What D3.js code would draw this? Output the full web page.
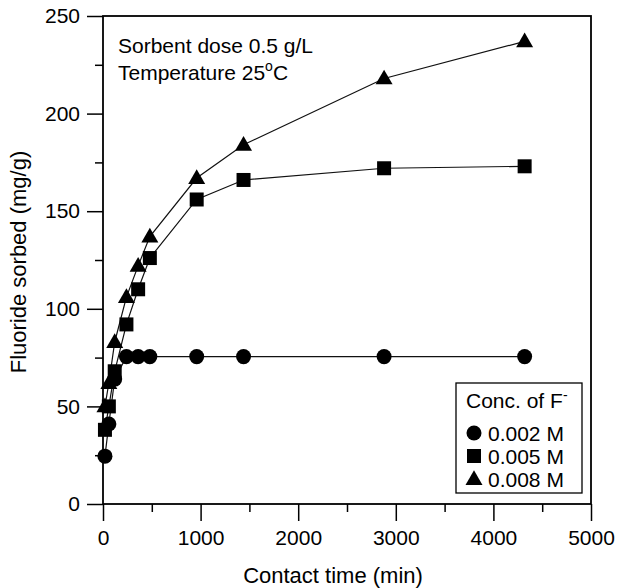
<!DOCTYPE html>
<html>
<head>
<meta charset="utf-8">
<script src="https://cdn.jsdelivr.net/npm/d3@7"></script>
<style>
  html, body { margin: 0; padding: 0; background: #fff; }
  svg { display: block; }
  text { font-family: "Liberation Sans", Arial, Helvetica, sans-serif; fill: #000; }
</style>
</head>
<body>
<svg id="chart" width="617" height="588"></svg>
<script>
// ---- data ----
const times = [20, 60, 120, 240, 360, 480, 960, 1440, 2880, 4320];
const conc002 = [24.5, 41, 64, 75.5, 75.5, 75.5, 75.5, 75.5, 75.5, 75.5];
const conc005 = [38, 50, 68, 92, 110, 126, 156, 166, 172, 173];
const conc008 = [50, 62, 83, 106, 122, 137, 167, 184, 218, 237];
const seriesNames = ["0.002 M", "0.005 M", "0.008 M"];
const seriesSymbols = ["circle", "square", "triangle"];
const xTicks = [0, 1000, 2000, 3000, 4000, 5000];
const yTicks = [0, 50, 100, 150, 200, 250];

const series = [conc002, conc005, conc008].map((vals, i) => ({
  name: seriesNames[i],
  symbol: seriesSymbols[i],
  points: times.map((t, j) => ({ t, v: vals[j] }))
}));

const svg = d3.select("#chart");
const margin = { left: 103, right: 26, top: 16, bottom: 84 };
const W = 617, H = 588;
const x = d3.scaleLinear().domain([0, 5000]).range([margin.left, W - margin.right]);
const y = d3.scaleLinear().domain([0, 250]).range([H - margin.bottom, margin.top]);

const symType = { circle: d3.symbolCircle, square: d3.symbolSquare, triangle: d3.symbolTriangle };
const symSize = { circle: 177, square: 196, triangle: 125 };
const symPath = s => d3.symbol().type(symType[s]).size(symSize[s])();

// ---- lines ----
const line = d3.line().x(d => x(d.t)).y(d => y(d.v));
svg.append("g").selectAll("path").data(series).join("path")
  .attr("d", d => line(d.points))
  .attr("fill", "none").attr("stroke", "#111").attr("stroke-width", 1.2);

// ---- markers ----
series.forEach(s => {
  svg.append("g").selectAll("path").data(s.points).join("path")
    .attr("d", symPath(s.symbol))
    .attr("transform", d => `translate(${x(d.t)},${y(d.v) + (s.symbol === "triangle" ? 1 : 0)})`)
    .attr("fill", "#000");
});

// ---- axes ----
const tickFont = 21;
const titleFont = 22;
const xAxis = d3.axisBottom(x).tickValues(xTicks).tickSize(17).tickPadding(9).tickFormat(d3.format("d"));
const gx = svg.append("g").attr("transform", `translate(0,${y(0)})`).call(xAxis);
gx.selectAll(".tick text").attr("font-size", tickFont).attr("font-family", "Liberation Sans, Arial, sans-serif");
const xMinor = d3.axisBottom(x).tickValues([500, 1500, 2500, 3500, 4500]).tickSize(8).tickFormat("");
svg.append("g").attr("transform", `translate(0,${y(0)})`).call(xMinor).select(".domain").remove();

const yAxis = d3.axisLeft(y).tickValues(yTicks).tickSize(16).tickPadding(7).tickFormat(d3.format("d"));
const gy = svg.append("g").attr("transform", `translate(${x(0)},0)`).call(yAxis);
gy.selectAll(".tick text").attr("font-size", tickFont).attr("font-family", "Liberation Sans, Arial, sans-serif");
const yMinor = d3.axisLeft(y).tickValues([25, 75, 125, 175, 225]).tickSize(8).tickFormat("");
svg.append("g").attr("transform", `translate(${x(0)},0)`).call(yMinor).select(".domain").remove();

svg.selectAll(".domain").remove();
svg.selectAll(".tick line").attr("stroke", "#000").attr("stroke-width", 1.5);

// frame
svg.append("rect")
  .attr("x", x(0)).attr("y", y(250))
  .attr("width", x(5000) - x(0)).attr("height", y(0) - y(250))
  .attr("fill", "none").attr("stroke", "#000").attr("stroke-width", 1.8);

// ---- axis titles ----
svg.append("text")
  .attr("x", 333).attr("y", 583)
  .attr("text-anchor", "middle").attr("font-size", titleFont)
  .text("Contact time (min)");
svg.append("text")
  .attr("transform", `translate(26,${(y(0) + y(250)) / 2 + 2}) rotate(-90)`)
  .attr("text-anchor", "middle").attr("font-size", titleFont)
  .text("Fluoride sorbed (mg/g)");

// ---- annotation ----
const ann = svg.append("g");
ann.append("text").attr("x", 118).attr("y", 53).attr("font-size", tickFont)
  .text("Sorbent dose 0.5 g/L");
const t2 = ann.append("text").attr("x", 118).attr("y", 80).attr("font-size", tickFont);
t2.append("tspan").text("Temperature 25");
t2.append("tspan").attr("dy", -9).attr("font-size", 14).text("o");
t2.append("tspan").attr("dy", 9).text("C");

// ---- legend ----
const lg = svg.append("g");
lg.append("rect").attr("x", 456).attr("y", 383).attr("width", 126).attr("height", 110)
  .attr("fill", "#fff").attr("stroke", "#000").attr("stroke-width", 1.3);
const lt = lg.append("text").attr("x", 466).attr("y", 408).attr("font-size", tickFont);
lt.append("tspan").text("Conc. of F");
lt.append("tspan").attr("dy", -8).attr("font-size", 14).text("-");
series.forEach((s, i) => {
  const cy = 433 + i * 23;
  lg.append("path").attr("d", symPath(s.symbol))
    .attr("transform", `translate(474,${cy + (s.symbol === "triangle" ? 1 : 0)})`).attr("fill", "#000");
  lg.append("text").attr("x", 488).attr("y", cy + 8).attr("font-size", tickFont).text(s.name);
});
</script>
</body>
</html>
